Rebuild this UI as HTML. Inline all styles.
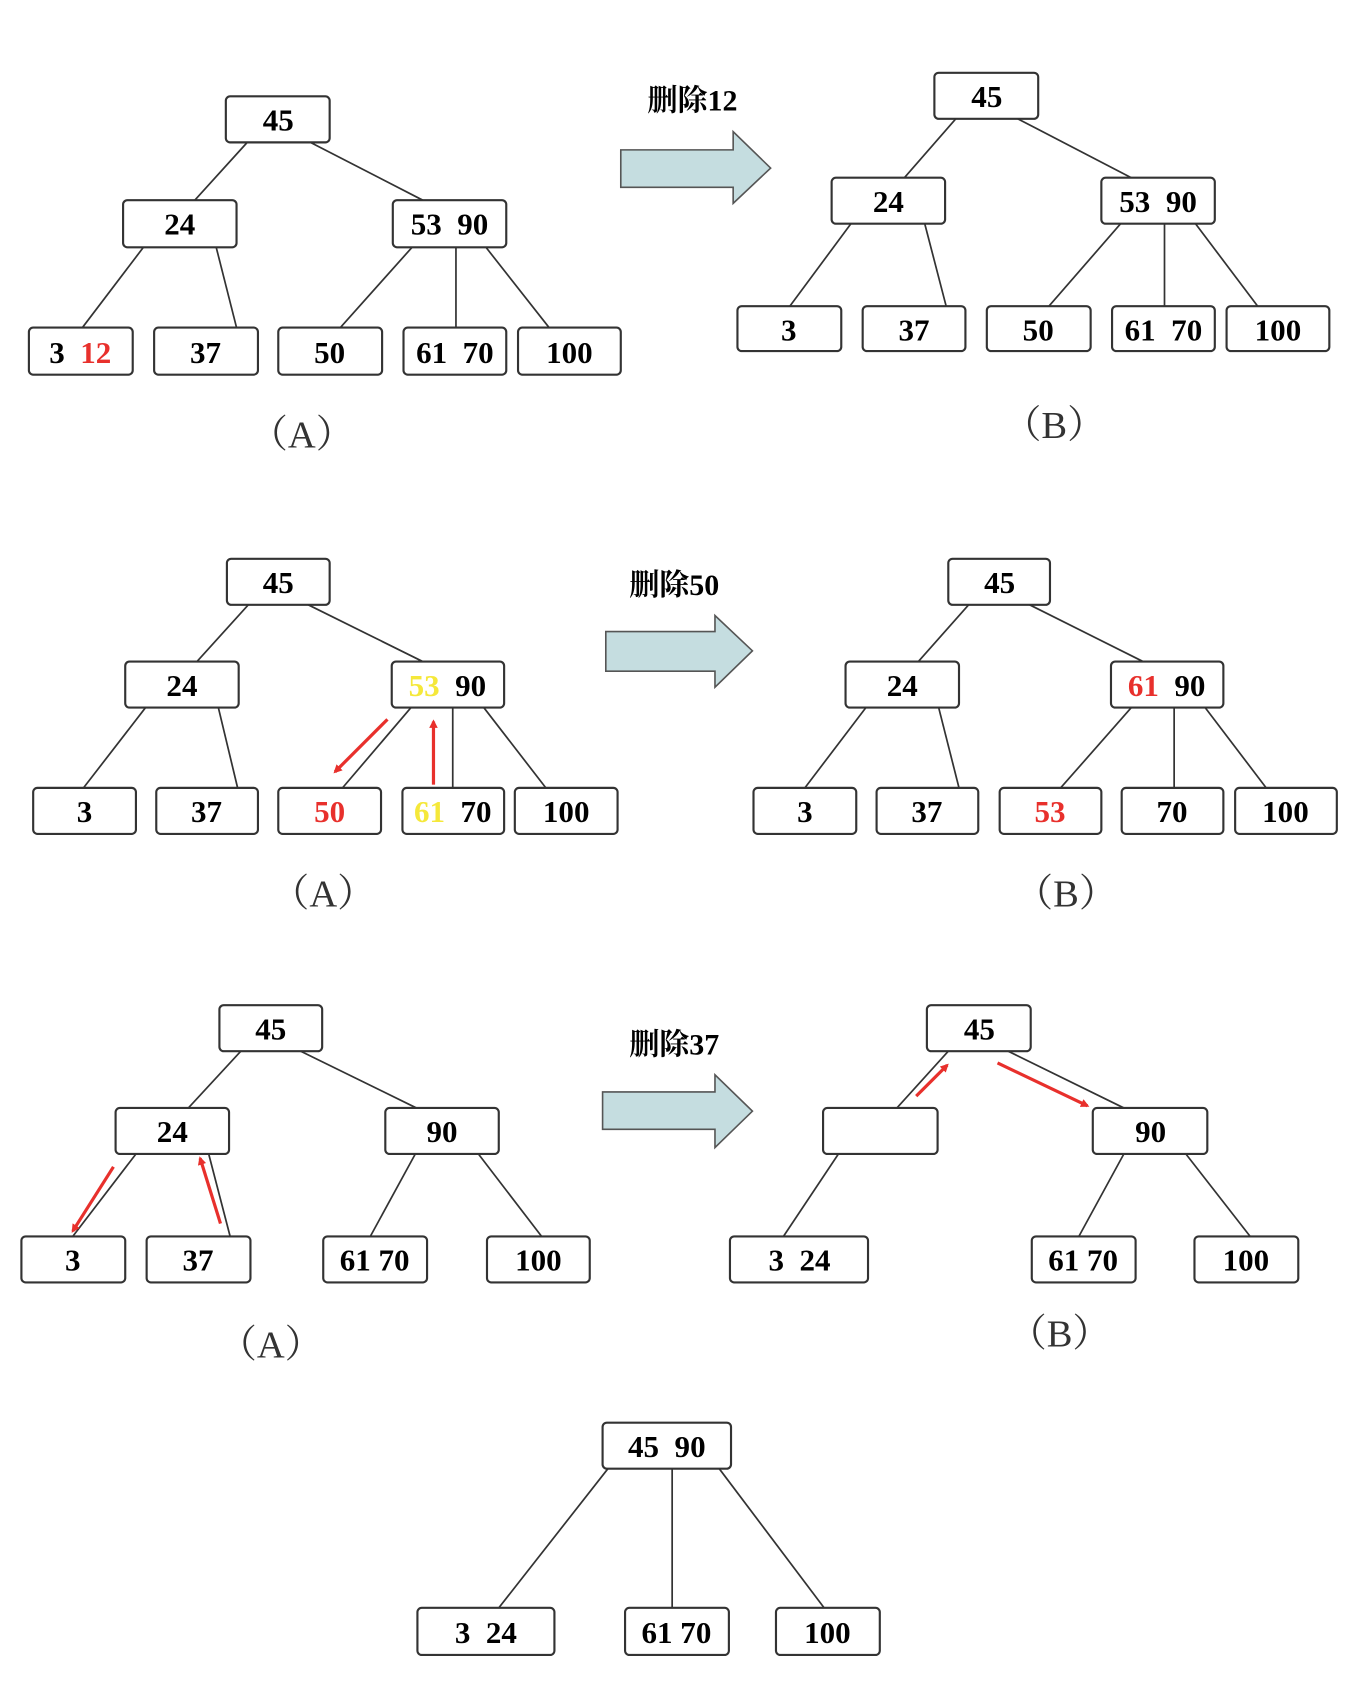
<!DOCTYPE html>
<html><head><meta charset="utf-8"><style>
html,body{margin:0;padding:0;background:#fff;}
svg{display:block;}
.b{fill:#fff;stroke:#333;stroke-width:2;}
.l{stroke:#333;stroke-width:1.6;}
.t{font-family:"Liberation Serif","Noto Serif CJK SC",serif;font-weight:bold;font-size:29px;text-anchor:middle;fill:#000;white-space:pre;}
.c{font-family:"Liberation Serif","Noto Serif CJK SC",serif;font-size:36px;text-anchor:middle;fill:#333;white-space:pre;}
.h{font-family:"Liberation Serif","Noto Serif CJK SC",serif;font-weight:bold;font-size:28px;text-anchor:middle;fill:#000;}
.ar{fill:#c5dde0;stroke:#555;stroke-width:1.5;}
.r{stroke:#e8302c;stroke-width:3;}
</style></head><body>
<svg width="1370" height="1686" viewBox="0 0 1280 1575" preserveAspectRatio="none" xmlns="http://www.w3.org/2000/svg" xml:space="preserve">
<defs><marker id="m" markerWidth="8" markerHeight="8" refX="6" refY="4" orient="auto" markerUnits="userSpaceOnUse"><path d="M0,0 L8,4 L0,8 z" fill="#e8302c"/></marker></defs>

<g>
<line class="l" x1="231" y1="133" x2="182" y2="187"/><line class="l" x1="290" y1="133" x2="395" y2="187"/>
<line class="l" x1="134" y1="231" x2="77" y2="306"/><line class="l" x1="202" y1="231" x2="221" y2="306"/>
<line class="l" x1="385" y1="231" x2="318" y2="306"/><line class="l" x1="426" y1="231" x2="426" y2="306"/><line class="l" x1="454" y1="231" x2="513" y2="306"/>
<rect class="b" x="211" y="90" width="97" height="43" rx="4"/><text class="t" x="260" y="122">45</text>
<rect class="b" x="115" y="187" width="106" height="44" rx="4"/><text class="t" x="168" y="219">24</text>
<rect class="b" x="367" y="187" width="106" height="44" rx="4"/><text class="t" x="420" y="219">53  90</text>
<rect class="b" x="27" y="306" width="97" height="44" rx="4"/><text class="t" x="75" y="339"><tspan>3  </tspan><tspan style="fill:#e8302c">12</tspan></text>
<rect class="b" x="144" y="306" width="97" height="44" rx="4"/><text class="t" x="192" y="339">37</text>
<rect class="b" x="260" y="306" width="97" height="44" rx="4"/><text class="t" x="308" y="339">50</text>
<rect class="b" x="377" y="306" width="96" height="44" rx="4"/><text class="t" x="425" y="339">61  70</text>
<rect class="b" x="484" y="306" width="96" height="44" rx="4"/><text class="t" x="532" y="339">100</text>
<text class="c" x="282" y="418">（A）</text>
</g>
<text class="h" x="647" y="103">删除12</text>
<path class="ar" d="M580,140 L685,140 L685,123 L720,157 L685,190 L685,175 L580,175 Z"/>

<g>
<line class="l" x1="893" y1="111" x2="845" y2="166"/><line class="l" x1="951" y1="111" x2="1057" y2="166"/>
<line class="l" x1="795" y1="209" x2="738" y2="286"/><line class="l" x1="864" y1="209" x2="884" y2="286"/>
<line class="l" x1="1047" y1="209" x2="980" y2="286"/><line class="l" x1="1088" y1="209" x2="1088" y2="286"/><line class="l" x1="1117" y1="209" x2="1175" y2="286"/>
<rect class="b" x="873" y="68" width="97" height="43" rx="4"/><text class="t" x="922" y="100">45</text>
<rect class="b" x="777" y="166" width="106" height="43" rx="4"/><text class="t" x="830" y="198">24</text>
<rect class="b" x="1029" y="166" width="106" height="43" rx="4"/><text class="t" x="1082" y="198">53  90</text>
<rect class="b" x="689" y="286" width="97" height="42" rx="4"/><text class="t" x="737" y="318">3</text>
<rect class="b" x="806" y="286" width="96" height="42" rx="4"/><text class="t" x="854" y="318">37</text>
<rect class="b" x="922" y="286" width="97" height="42" rx="4"/><text class="t" x="970" y="318">50</text>
<rect class="b" x="1039" y="286" width="96" height="42" rx="4"/><text class="t" x="1087" y="318">61  70</text>
<rect class="b" x="1146" y="286" width="96" height="42" rx="4"/><text class="t" x="1194" y="318">100</text>
<text class="c" x="985" y="409">（B）</text>
</g>

<g>
<line class="l" x1="232" y1="565" x2="184" y2="618"/><line class="l" x1="288" y1="565" x2="395" y2="618"/>
<line class="l" x1="136" y1="661" x2="78" y2="736"/><line class="l" x1="204" y1="661" x2="222" y2="736"/>
<line class="l" x1="384" y1="661" x2="320" y2="736"/><line class="l" x1="423" y1="661" x2="423" y2="736"/><line class="l" x1="452" y1="661" x2="510" y2="736"/>
<rect class="b" x="212" y="522" width="96" height="43" rx="4"/><text class="t" x="260" y="554">45</text>
<rect class="b" x="117" y="618" width="106" height="43" rx="4"/><text class="t" x="170" y="650">24</text>
<rect class="b" x="366" y="618" width="105" height="43" rx="4"/><text class="t" x="418" y="650"><tspan style="fill:#f5e83a">53</tspan><tspan>  90</tspan></text>
<rect class="b" x="31" y="736" width="96" height="43" rx="4"/><text class="t" x="79" y="768">3</text>
<rect class="b" x="146" y="736" width="95" height="43" rx="4"/><text class="t" x="193" y="768">37</text>
<rect class="b" x="260" y="736" width="96" height="43" rx="4"/><text class="t" x="308" y="768" style="fill:#e8302c">50</text>
<rect class="b" x="376" y="736" width="95" height="43" rx="4"/><text class="t" x="423" y="768"><tspan style="fill:#f5e83a">61</tspan><tspan>  70</tspan></text>
<rect class="b" x="481" y="736" width="96" height="43" rx="4"/><text class="t" x="529" y="768">100</text>
<line class="r" x1="362" y1="672" x2="313" y2="721" marker-end="url(#m)"/>
<line class="r" x1="405" y1="733" x2="405" y2="674" stroke-width="2" marker-end="url(#m)"/>
<text class="c" x="302" y="847">（A）</text>
</g>
<text class="h" x="630" y="556">删除50</text>
<path class="ar" d="M566,590 L668,590 L668,575 L703,608 L668,642 L668,627 L566,627 Z"/>

<g>
<line class="l" x1="905" y1="565" x2="858" y2="618"/><line class="l" x1="962" y1="565" x2="1068" y2="618"/>
<line class="l" x1="809" y1="661" x2="752" y2="736"/><line class="l" x1="877" y1="661" x2="896" y2="736"/>
<line class="l" x1="1057" y1="661" x2="991" y2="736"/><line class="l" x1="1097" y1="661" x2="1097" y2="736"/><line class="l" x1="1126" y1="661" x2="1183" y2="736"/>
<rect class="b" x="886" y="522" width="95" height="43" rx="4"/><text class="t" x="934" y="554">45</text>
<rect class="b" x="790" y="618" width="106" height="43" rx="4"/><text class="t" x="843" y="650">24</text>
<rect class="b" x="1038" y="618" width="105" height="43" rx="4"/><text class="t" x="1090" y="650"><tspan style="fill:#e8302c">61</tspan><tspan>  90</tspan></text>
<rect class="b" x="704" y="736" width="96" height="43" rx="4"/><text class="t" x="752" y="768">3</text>
<rect class="b" x="819" y="736" width="95" height="43" rx="4"/><text class="t" x="866" y="768">37</text>
<rect class="b" x="934" y="736" width="95" height="43" rx="4"/><text class="t" x="981" y="768" style="fill:#e8302c">53</text>
<rect class="b" x="1048" y="736" width="95" height="43" rx="4"/><text class="t" x="1095" y="768">70</text>
<rect class="b" x="1154" y="736" width="95" height="43" rx="4"/><text class="t" x="1201" y="768">100</text>
<text class="c" x="996" y="847">（B）</text>
</g>

<g>
<line class="l" x1="225" y1="982" x2="176" y2="1035"/><line class="l" x1="281" y1="982" x2="389" y2="1035"/>
<line class="l" x1="127" y1="1078" x2="68" y2="1155"/><line class="l" x1="195" y1="1078" x2="215" y2="1155"/>
<line class="l" x1="388" y1="1078" x2="346" y2="1155"/><line class="l" x1="447" y1="1078" x2="506" y2="1155"/>
<rect class="b" x="205" y="939" width="96" height="43" rx="4"/><text class="t" x="253" y="971">45</text>
<rect class="b" x="108" y="1035" width="106" height="43" rx="4"/><text class="t" x="161" y="1067">24</text>
<rect class="b" x="360" y="1035" width="106" height="43" rx="4"/><text class="t" x="413" y="1067">90</text>
<rect class="b" x="20" y="1155" width="97" height="43" rx="4"/><text class="t" x="68" y="1187">3</text>
<rect class="b" x="137" y="1155" width="97" height="43" rx="4"/><text class="t" x="185" y="1187">37</text>
<rect class="b" x="302" y="1155" width="97" height="43" rx="4"/><text class="t" x="350" y="1187">61 70</text>
<rect class="b" x="455" y="1155" width="96" height="43" rx="4"/><text class="t" x="503" y="1187">100</text>
<line class="r" x1="106" y1="1090" x2="68" y2="1150" marker-end="url(#m)"/>
<line class="r" x1="206" y1="1143" x2="187" y2="1082" marker-end="url(#m)"/>
<text class="c" x="253" y="1268">（A）</text>
</g>
<text class="h" x="630" y="985">删除37</text>
<path class="ar" d="M563,1020 L668,1020 L668,1004 L703,1038 L668,1072 L668,1055 L563,1055 Z"/>

<g>
<line class="l" x1="886" y1="982" x2="838" y2="1035"/><line class="l" x1="942" y1="982" x2="1050" y2="1035"/>
<line class="l" x1="790" y1="1068" x2="732" y2="1155"/>
<line class="l" x1="1050" y1="1078" x2="1008" y2="1155"/><line class="l" x1="1108" y1="1078" x2="1168" y2="1155"/>
<rect class="b" x="866" y="939" width="97" height="43" rx="4"/><text class="t" x="915" y="971">45</text>
<rect class="b" x="769" y="1035" width="107" height="43" rx="4"/>
<rect class="b" x="1021" y="1035" width="107" height="43" rx="4"/><text class="t" x="1075" y="1067">90</text>
<rect class="b" x="682" y="1155" width="129" height="43" rx="4"/><text class="t" x="747" y="1187">3  24</text>
<rect class="b" x="964" y="1155" width="97" height="43" rx="4"/><text class="t" x="1012" y="1187">61 70</text>
<rect class="b" x="1116" y="1155" width="97" height="43" rx="4"/><text class="t" x="1164" y="1187">100</text>
<line class="r" x1="856" y1="1024" x2="885" y2="995" marker-end="url(#m)"/>
<line class="r" x1="932" y1="993" x2="1016" y2="1033" marker-end="url(#m)"/>
<text class="c" x="990" y="1258">（B）</text>
</g>

<g>
<line class="l" x1="568" y1="1372" x2="466" y2="1502"/><line class="l" x1="628" y1="1372" x2="628" y2="1502"/><line class="l" x1="672" y1="1372" x2="770" y2="1502"/>
<rect class="b" x="563" y="1329" width="120" height="43" rx="4"/><text class="t" x="623" y="1361">45  90</text>
<rect class="b" x="390" y="1502" width="128" height="44" rx="4"/><text class="t" x="454" y="1535">3  24</text>
<rect class="b" x="584" y="1502" width="97" height="44" rx="4"/><text class="t" x="632" y="1535">61 70</text>
<rect class="b" x="725" y="1502" width="97" height="44" rx="4"/><text class="t" x="773" y="1535">100</text>
</g>
</svg>
</body></html>
